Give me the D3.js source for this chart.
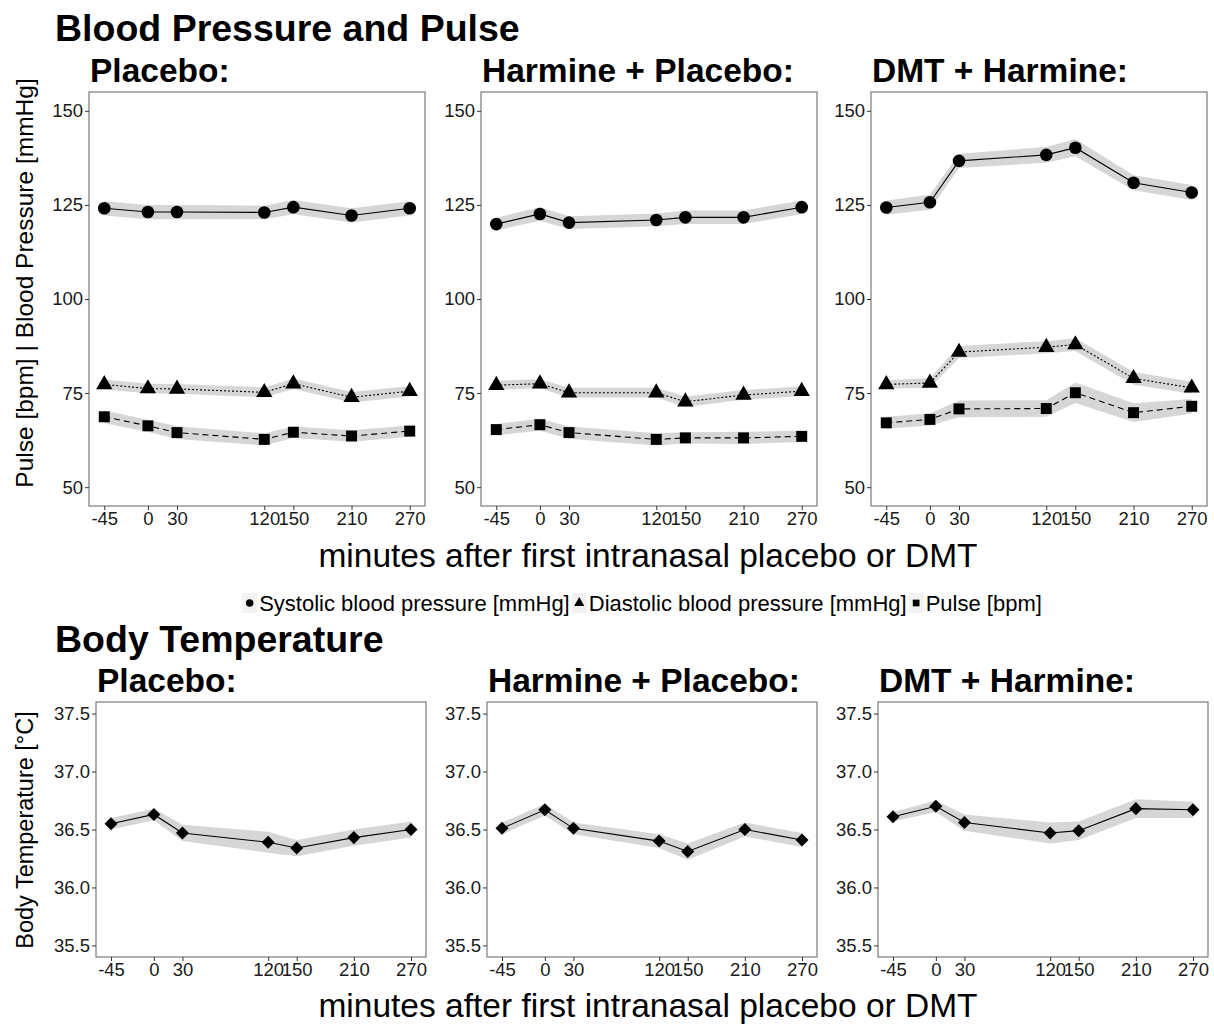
<!DOCTYPE html>
<html>
<head>
<meta charset="utf-8">
<script src="https://cdn.jsdelivr.net/npm/d3@7"></script>
<style>
  html, body { margin: 0; padding: 0; background: #fff; }
  svg { display: block; font-family: "Liberation Sans", Arial, sans-serif; }
</style>
</head>
<body>
<svg id="chart" width="1214" height="1025"></svg>
<script>
// Measurement times (minutes after first intranasal dose)
const minutes = [-45, 0, 30, 120, 150, 210, 270];
const conditionNames = ["Placebo:", "Harmine + Placebo:", "DMT + Harmine:"];

// Means and standard errors, one row per condition
const systolic = [
  [124.1, 123.1, 123.1, 123.0, 124.4, 122.2, 124.1],
  [119.9, 122.6, 120.3, 121.0, 121.7, 121.7, 124.4],
  [124.3, 125.7, 136.7, 138.3, 140.2, 130.9, 128.3]
];
const systolicSem = [
  [1.9, 1.9, 1.9, 1.8, 1.9, 1.9, 1.9],
  [1.7, 1.8, 1.7, 1.7, 1.8, 1.8, 1.8],
  [1.9, 2.0, 1.9, 2.1, 2.3, 2.0, 2.0]
];
const diastolic = [
  [77.3, 76.2, 76.1, 75.2, 77.5, 73.9, 75.5],
  [77.1, 77.5, 75.1, 75.1, 72.7, 74.5, 75.5],
  [77.3, 77.7, 85.9, 87.2, 87.9, 78.9, 76.4]
];
const diastolicSem = [
  [1.3, 1.3, 1.3, 1.3, 1.4, 1.4, 1.4],
  [1.2, 1.2, 1.3, 1.3, 1.4, 1.3, 1.3],
  [1.1, 1.3, 1.6, 1.6, 1.7, 1.7, 1.6]
];
const pulse = [
  [68.7, 66.3, 64.5, 62.7, 64.6, 63.6, 64.9],
  [65.3, 66.6, 64.5, 62.7, 63.1, 63.1, 63.5],
  [67.1, 68.0, 70.8, 70.9, 75.1, 69.8, 71.5]
];
const pulseSem = [
  [1.7, 1.6, 1.7, 1.6, 1.5, 1.5, 1.5],
  [1.5, 1.6, 1.6, 1.6, 1.5, 1.6, 1.5],
  [1.6, 1.6, 2.2, 2.2, 2.7, 2.5, 1.9]
];
const temperature = [
  [36.55, 36.63, 36.47, 36.39, 36.34, 36.43, 36.50],
  [36.51, 36.67, 36.51, 36.40, 36.31, 36.50, 36.41],
  [36.61, 36.70, 36.56, 36.47, 36.49, 36.68, 36.67]
];
const temperatureSem = [
  [0.05, 0.05, 0.07, 0.09, 0.07, 0.07, 0.07],
  [0.05, 0.05, 0.05, 0.06, 0.07, 0.06, 0.06],
  [0.04, 0.05, 0.07, 0.09, 0.08, 0.08, 0.07]
];

const bpTicks = [50, 75, 100, 125, 150];
const tempTicks = [35.5, 36.0, 36.5, 37.0, 37.5];
const seriesLabels = ["Systolic blood pressure [mmHg]", "Diastolic blood pressure [mmHg]", "Pulse [bpm]"];

const svg = d3.select("#chart");
svg.append("rect").attr("width", 1214).attr("height", 1025).attr("fill", "#fff");

const BAND = "#d6d6d6";
const INK = "#000";
const shapes = {
  circle: d3.symbol().type(d3.symbolCircle).size(125),
  triangle: d3.symbol().type(d3.symbolTriangle).size(115),
  square: d3.symbol().type(d3.symbolSquare).size(120),
  diamond: d3.symbol().type(d3.symbolSquare).size(85)
};

function drawPanel(g, opts) {
  const { left, top, width, height, yDomain, yTicks, yFormat, series, title } = opts;
  const x = d3.scaleLinear().domain([-60.75, 285.75]).range([0, width]);
  const y = d3.scaleLinear().domain(yDomain).range([height, 0]);
  const p = g.append("g").attr("transform", `translate(${left},${top})`);

  p.append("text")
    .attr("x", 1).attr("y", -10)
    .attr("font-size", 33.5).attr("font-weight", "bold").attr("fill", INK)
    .text(title);

  const area = d3.area().x(d => x(d.t)).y0(d => y(d.v - d.se)).y1(d => y(d.v + d.se));
  const line = d3.line().x(d => x(d.t)).y(d => y(d.v));

  series.forEach(s => {
    const rows = minutes.map((t, i) => ({ t, v: s.values[i], se: s.sem[i] }));
    p.append("path").datum(rows).attr("d", area).attr("fill", BAND);
  });
  series.forEach(s => {
    const rows = minutes.map((t, i) => ({ t, v: s.values[i] }));
    p.append("path").datum(rows).attr("d", line)
      .attr("fill", "none").attr("stroke", INK).attr("stroke-width", 1.1)
      .attr("stroke-dasharray", s.dash || null);
    p.selectAll(null).data(rows).enter().append("path")
      .attr("transform", d => `translate(${x(d.t)},${y(d.v)})` + (s.shape === "diamond" ? " rotate(45)" : ""))
      .attr("d", shapes[s.shape]).attr("fill", INK);
  });

  p.append("rect").attr("width", width).attr("height", height)
    .attr("fill", "none").attr("stroke", "#7a7a7a").attr("stroke-width", 1.2);

  const yAxis = p.append("g").call(d3.axisLeft(y).tickValues(yTicks).tickSize(4).tickPadding(2).tickFormat(yFormat));
  const xAxis = p.append("g").attr("transform", `translate(0,${height})`)
    .call(d3.axisBottom(x).tickValues(minutes).tickSize(4).tickPadding(2).tickFormat(d => String(d)));
  [yAxis, xAxis].forEach(a => {
    a.select(".domain").remove();
    a.selectAll(".tick line").attr("stroke", "#333");
    a.selectAll(".tick text").attr("font-size", 18.5).attr("fill", "#1a1a1a")
      .attr("font-family", "Liberation Sans, Arial, sans-serif");
  });
}

// Section titles
svg.append("text").attr("x", 55).attr("y", 41).attr("font-size", 37.5).attr("font-weight", "bold").text("Blood Pressure and Pulse");
svg.append("text").attr("x", 55).attr("y", 652).attr("font-size", 37.5).attr("font-weight", "bold").text("Body Temperature");

// Blood pressure and pulse panels
const topLefts = [89, 481, 871];
conditionNames.forEach((name, c) => {
  drawPanel(svg, {
    left: topLefts[c], top: 92, width: 336, height: 414,
    yDomain: [45, 155], yTicks: bpTicks, yFormat: d => String(d), title: name,
    series: [
      { values: systolic[c], sem: systolicSem[c], shape: "circle" },
      { values: diastolic[c], sem: diastolicSem[c], shape: "triangle", dash: "2,2" },
      { values: pulse[c], sem: pulseSem[c], shape: "square", dash: "6,4" }
    ]
  });
});

// Body temperature panels
const bottomLefts = [96, 487, 878];
conditionNames.forEach((name, c) => {
  drawPanel(svg, {
    left: bottomLefts[c], top: 702, width: 330, height: 255,
    yDomain: [35.4, 37.6], yTicks: tempTicks, yFormat: d3.format(".1f"), title: name,
    series: [{ values: temperature[c], sem: temperatureSem[c], shape: "diamond" }]
  });
});

// Axis titles
const xTitle = "minutes after first intranasal placebo or DMT";
svg.append("text").attr("x", 648).attr("y", 567).attr("text-anchor", "middle").attr("font-size", 33.5).text(xTitle);
svg.append("text").attr("x", 648).attr("y", 1017).attr("text-anchor", "middle").attr("font-size", 33.5).text(xTitle);
svg.append("text").attr("transform", "translate(33,283) rotate(-90)").attr("text-anchor", "middle")
  .attr("font-size", 24.5).text("Pulse [bpm] | Blood Pressure [mmHg]");
svg.append("text").attr("transform", "translate(33,830) rotate(-90)").attr("text-anchor", "middle")
  .attr("font-size", 23.5).text("Body Temperature [°C]");

// Legend
const legend = svg.append("g");
const legendShapes = ["circle", "triangle", "square"];
const legendSym = {
  circle: d3.symbol().type(d3.symbolCircle).size(45),
  triangle: d3.symbol().type(d3.symbolTriangle).size(45),
  square: d3.symbol().type(d3.symbolSquare).size(45)
};
let lx = 0;
seriesLabels.forEach((label, i) => {
  const it = legend.append("g").attr("transform", `translate(${lx},0)`);
  it.append("rect").attr("x", 0).attr("y", -10).attr("width", 15).attr("height", 20).attr("fill", "#f2f2f2");
  it.append("path").attr("transform", "translate(7.5,0)").attr("d", legendSym[legendShapes[i]]).attr("fill", INK);
  const t = it.append("text").attr("x", 17).attr("y", 7.5).attr("font-size", 22).text(label);
  lx += 17 + t.node().getComputedTextLength() + 2;
});
legend.attr("transform", `translate(${(1214 - lx) / 2 + 36},603)`);
</script>
</body>
</html>
